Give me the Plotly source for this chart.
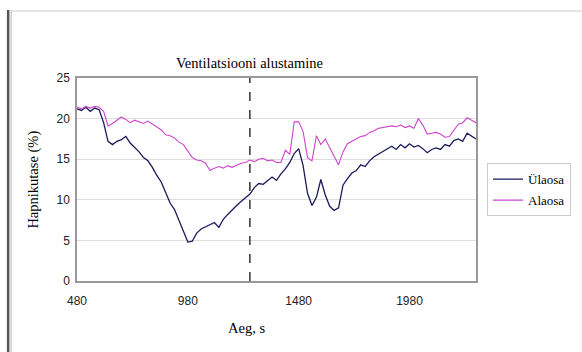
import plotly.graph_objects as go

# time axis (s)
time_s = list(range(480, 2281, 20))

ulaosa = [21.2, 21.0, 21.4, 20.9, 21.3, 21.1, 19.5, 17.2, 16.8, 17.2,
          17.4, 17.8, 17.0, 16.5, 15.9, 15.2, 14.8, 14.0, 13.0, 12.2,
          10.9, 9.6, 8.8, 7.4, 6.0, 4.8, 4.9, 5.9, 6.4, 6.7,
          7.0, 7.2, 6.6, 7.6, 8.2, 8.8, 9.3, 9.8, 10.2, 10.7,
          11.5, 12.0, 11.9, 12.4, 12.8, 12.4, 13.2, 13.8, 14.6, 15.7,
          16.3, 14.2, 10.8, 9.3, 10.3, 12.5, 10.6, 9.2, 8.7, 9.0,
          11.8, 12.6, 13.3, 13.6, 14.3, 14.1, 14.8, 15.3, 15.6, 16.0,
          16.3, 16.6, 16.2, 16.8, 16.4, 16.9, 16.5, 16.7, 16.3, 15.8,
          16.2, 16.4, 16.2, 16.8, 16.6, 17.3, 17.5, 17.2, 18.2, 17.8,
          17.5]

alaosa = [21.4, 21.2, 21.5, 21.3, 21.5, 21.4, 20.9, 19.1, 19.4, 19.8,
          20.2, 19.9, 19.5, 19.8, 19.6, 19.4, 19.7, 19.3, 18.9, 18.6,
          18.0, 17.9, 17.6, 17.1, 16.8, 16.0, 15.2, 14.9, 14.8, 14.5,
          13.6, 13.9, 14.1, 13.9, 14.2, 14.0, 14.3, 14.5, 14.6, 14.9,
          14.7, 15.0, 15.1, 14.8, 14.9, 14.6, 14.6, 16.1, 15.6, 19.6,
          19.6, 18.4, 15.2, 14.8, 17.9, 16.8, 17.5, 16.4, 15.2, 14.3,
          15.9, 16.9, 17.2, 17.5, 17.8, 17.9, 18.3, 18.5, 18.8, 18.9,
          19.0, 19.1, 19.0, 19.2, 18.9, 19.1, 18.8, 20.0, 19.2, 18.1,
          18.2, 18.3, 18.1, 17.7, 17.8, 18.6, 19.3, 19.5, 20.1, 19.8,
          19.5]

x_ticks = [480, 980, 1480, 1980]
y_ticks = [0, 5, 10, 15, 20, 25]
vent_start = 1260

serif = "Liberation Serif, Times New Roman, serif"
sans = "Liberation Sans, Arial, sans-serif"

fig = go.Figure()
fig.add_trace(go.Scatter(x=time_s, y=ulaosa, mode="lines", name="Ülaosa",
                         legendgroup="a",
                         line=dict(color="#1a1a5a", width=1.3)))
fig.add_trace(go.Scatter(x=time_s, y=alaosa, mode="lines", name="Alaosa",
                         legendgroup="b",
                         line=dict(color="#cc44cc", width=1.1)))

fig.add_shape(type="line", xref="x", yref="paper", x0=vent_start, x1=vent_start,
              y0=0, y1=1, line=dict(color="black", width=1.2, dash="dash"))

# frame of the picture
fig.add_shape(type="line", xref="paper", yref="paper",
              x0=-0.1725, x1=-0.1725, y0=1.335, y1=-0.36,
              line=dict(color="#555555", width=2.5))
fig.add_shape(type="line", xref="paper", yref="paper",
              x0=-0.165, x1=-0.165, y0=1.335, y1=-0.36,
              line=dict(color="#cccccc", width=1.5))
fig.add_shape(type="line", xref="paper", yref="paper",
              x0=-0.165, x1=1.3, y0=1.33, y1=1.33,
              line=dict(color="#dddddd", width=1.5))

fig.add_annotation(text="Ventilatsiooni alustamine", xref="x", yref="paper",
                   x=vent_start, y=1.074, xanchor="center", yanchor="middle",
                   showarrow=False,
                   font=dict(family=serif, size=14.5, color="black"))
fig.add_annotation(text="Hapnikutase (%)", xref="paper", yref="paper",
                   x=-0.11, y=0.5, xanchor="center", yanchor="middle",
                   textangle=-90, showarrow=False,
                   font=dict(family=serif, size=14.5, color="black"))
fig.add_annotation(text="Aeg, s", xref="paper", yref="paper",
                   x=0.425, y=-0.2315, xanchor="center", yanchor="middle",
                   showarrow=False,
                   font=dict(family=serif, size=14.5, color="black"))

fig.update_xaxes(range=[480, 2280], tickvals=x_ticks, showgrid=False,
                 showline=True, linecolor="#999999", linewidth=1.5, mirror=True,
                 ticks="", ticklabelstandoff=8,
                 tickfont=dict(family=sans, size=12, color="#222"),
                 zeroline=False)
fig.update_yaxes(range=[0, 25], tickvals=y_ticks, showgrid=True,
                 gridcolor="#dddddd", gridwidth=1,
                 showline=True, linecolor="#999999", linewidth=1.5, mirror=True,
                 ticks="", ticklabelstandoff=3,
                 tickfont=dict(family=sans, size=12, color="#222"),
                 zeroline=False)

fig.update_layout(
    width=582, height=352,
    margin=dict(l=77, r=105, t=78, b=71),
    paper_bgcolor="white", plot_bgcolor="white",
    showlegend=True,
    legend=dict(x=1.025, y=0.58, xanchor="left", yanchor="top",
                bordercolor="#cccccc", borderwidth=1,
                font=dict(family=serif, size=13, color="black"),
                tracegroupgap=1, itemwidth=30),
)

fig.write_html("out.html")
